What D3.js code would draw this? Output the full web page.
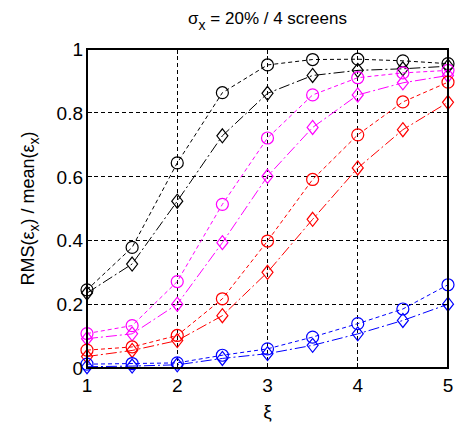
<!DOCTYPE html>
<html>
<head>
<meta charset="utf-8">
<script src="https://cdn.jsdelivr.net/npm/d3@7"></script>
<style>
  html, body { margin: 0; padding: 0; background: #fff; }
  svg text { font-family: "Liberation Sans", Arial, sans-serif; fill: #000; }
</style>
</head>
<body>
<svg id="chart" width="462" height="425"></svg>
<script>
// Sample positions along ξ
const xi = [1, 1.5, 2, 2.5, 3, 3.5, 4, 4.5, 5];

// RMS(εx)/mean(εx) for each configuration
const blackCircle    = [0.245, 0.378, 0.643, 0.863, 0.950, 0.967, 0.968, 0.963, 0.954];
const blackDiamond   = [0.235, 0.326, 0.523, 0.728, 0.861, 0.917, 0.933, 0.938, 0.946];
const magentaCircle  = [0.108, 0.133, 0.271, 0.513, 0.721, 0.856, 0.910, 0.925, 0.933];
const magentaDiamond = [0.092, 0.107, 0.200, 0.393, 0.601, 0.754, 0.856, 0.894, 0.917];
const redCircle      = [0.056, 0.066, 0.102, 0.217, 0.398, 0.591, 0.731, 0.834, 0.896];
const redDiamond     = [0.036, 0.055, 0.086, 0.164, 0.300, 0.466, 0.627, 0.747, 0.833];
const blueCircle     = [0.012, 0.014, 0.016, 0.040, 0.060, 0.097, 0.139, 0.185, 0.261];
const blueDiamond    = [0.004, 0.006, 0.010, 0.030, 0.045, 0.071, 0.107, 0.149, 0.200];

const xTicks = [1, 2, 3, 4, 5];
const yTicks = [0, 0.2, 0.4, 0.6, 0.8, 1];

const series = [
  { values: blackCircle,    color: "#000000", marker: "circle" },
  { values: blackDiamond,   color: "#000000", marker: "diamond" },
  { values: magentaCircle,  color: "#ff00ff", marker: "circle" },
  { values: magentaDiamond, color: "#ff00ff", marker: "diamond" },
  { values: redCircle,      color: "#ff0000", marker: "circle" },
  { values: redDiamond,     color: "#ff0000", marker: "diamond" },
  { values: blueCircle,     color: "#0000ff", marker: "circle" },
  { values: blueDiamond,    color: "#0000ff", marker: "diamond" }
];

const svg = d3.select("#chart");
const plot = { left: 87, right: 448, top: 49, bottom: 368 };

const x = d3.scaleLinear().domain([1, 5]).range([plot.left, plot.right]);
const y = d3.scaleLinear().domain([0, 1]).range([plot.bottom, plot.top]);

// Dashed grid
const grid = svg.append("g").attr("stroke", "#000").attr("stroke-width", 1)
  .attr("stroke-dasharray", "4,3").attr("shape-rendering", "crispEdges");
grid.selectAll("line.gx").data(xTicks.slice(1, -1)).join("line")
  .attr("x1", d => x(d)).attr("x2", d => x(d))
  .attr("y1", plot.top).attr("y2", plot.bottom);
grid.selectAll("line.gy").data(yTicks.slice(1, -1)).join("line")
  .attr("y1", d => y(d)).attr("y2", d => y(d))
  .attr("x1", plot.left).attr("x2", plot.right);

// Data lines and markers
const line = d3.line().x((d, i) => x(xi[i])).y(d => y(d));
const dashCircle = "4,3";
const dashDiamond = "11,3,2,3";

series.forEach(s => {
  const g = svg.append("g");
  g.append("path")
    .attr("d", line(s.values))
    .attr("fill", "none")
    .attr("stroke", s.color)
    .attr("stroke-width", 1)
    .attr("stroke-dasharray", s.marker === "circle" ? dashCircle : dashDiamond);
  if (s.marker === "circle") {
    g.selectAll("circle").data(s.values).join("circle")
      .attr("cx", (d, i) => x(xi[i])).attr("cy", d => y(d)).attr("r", 6)
      .attr("fill", "none").attr("stroke", s.color).attr("stroke-width", 1.2);
  } else {
    g.selectAll("path.m").data(s.values).join("path").attr("class", "m")
      .attr("d", (d, i) => {
        const cx = x(xi[i]), cy = y(d), w = 5.5, h = 7;
        return `M${cx},${cy - h}L${cx + w},${cy}L${cx},${cy + h}L${cx - w},${cy}Z`;
      })
      .attr("fill", "none").attr("stroke", s.color).attr("stroke-width", 1.2);
  }
});

// Axes box with inward ticks on all sides
const axes = svg.append("g").attr("shape-rendering", "crispEdges");
axes.append("rect")
  .attr("x", plot.left).attr("y", plot.top)
  .attr("width", plot.right - plot.left).attr("height", plot.bottom - plot.top)
  .attr("fill", "none").attr("stroke", "#000").attr("stroke-width", 1.5);

const tickLen = 5;
const tk = axes.append("g").attr("stroke", "#000").attr("stroke-width", 1);
xTicks.forEach(t => {
  tk.append("line").attr("x1", x(t)).attr("x2", x(t)).attr("y1", plot.bottom).attr("y2", plot.bottom - tickLen);
  tk.append("line").attr("x1", x(t)).attr("x2", x(t)).attr("y1", plot.top).attr("y2", plot.top + tickLen);
});
yTicks.forEach(t => {
  tk.append("line").attr("y1", y(t)).attr("y2", y(t)).attr("x1", plot.left).attr("x2", plot.left + tickLen);
  tk.append("line").attr("y1", y(t)).attr("y2", y(t)).attr("x1", plot.right).attr("x2", plot.right - tickLen);
});

// Tick labels
svg.append("g").selectAll("text").data(xTicks).join("text")
  .attr("x", d => x(d)).attr("y", plot.bottom + 24)
  .attr("text-anchor", "middle").attr("font-size", 19)
  .text(d => d3.format("d")(d));
svg.append("g").selectAll("text").data(yTicks).join("text")
  .attr("x", plot.left - 4).attr("y", d => y(d) + 7)
  .attr("text-anchor", "end").attr("font-size", 19)
  .text(d => d === 0 || d === 1 ? String(d) : d3.format(".1f")(d));

// Title
const title = svg.append("text")
  .attr("x", (plot.left + plot.right) / 2).attr("y", 24)
  .attr("text-anchor", "middle").attr("font-size", 17);
title.append("tspan").text("σ");
title.append("tspan").attr("dy", 6).attr("font-size", 14).text("x");
title.append("tspan").attr("dy", -6).text(" = 20% / 4 screens");

// X label
svg.append("text")
  .attr("x", (plot.left + plot.right) / 2).attr("y", 418)
  .attr("text-anchor", "middle").attr("font-size", 19)
  .text("ξ");

// Y label
const yl = svg.append("text")
  .attr("transform", `translate(34,${(plot.top + plot.bottom) / 2}) rotate(-90)`)
  .attr("text-anchor", "middle").attr("font-size", 18);
yl.append("tspan").text("RMS(ε");
yl.append("tspan").attr("dy", 5).attr("font-size", 14).text("x");
yl.append("tspan").attr("dy", -5).text(") / mean(ε");
yl.append("tspan").attr("dy", 5).attr("font-size", 14).text("x");
yl.append("tspan").attr("dy", -5).text(")");
</script>
</body>
</html>
